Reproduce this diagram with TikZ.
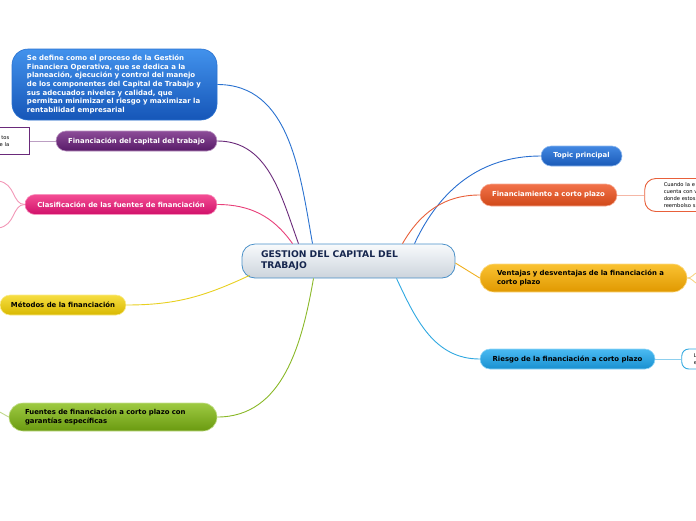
\documentclass[tikz,border=0pt]{standalone}
\usepackage{fontspec}
\setmainfont{DejaVu Sans}
\usepackage{xcolor}
\definecolor{hubtop}{RGB}{248,250,252}
\definecolor{hubbot}{RGB}{204,212,220}
\definecolor{hubline}{RGB}{74,144,200}
\definecolor{hubtext}{RGB}{22,38,78}
\definecolor{deftop}{RGB}{66,146,236}
\definecolor{defbot}{RGB}{22,86,184}
\definecolor{defline}{RGB}{42,114,208}
\definecolor{purtop}{RGB}{140,76,152}
\definecolor{purbot}{RGB}{88,26,104}
\definecolor{purline}{RGB}{106,42,122}
\definecolor{pintop}{RGB}{244,78,148}
\definecolor{pinbot}{RGB}{208,16,106}
\definecolor{pinline}{RGB}{232,64,122}
\definecolor{yeltop}{RGB}{246,222,66}
\definecolor{yelbot}{RGB}{216,184,0}
\definecolor{yelline}{RGB}{232,208,32}
\definecolor{gretop}{RGB}{158,202,66}
\definecolor{grebot}{RGB}{106,154,16}
\definecolor{greline}{RGB}{138,184,40}
\definecolor{toptop}{RGB}{66,136,226}
\definecolor{topbot}{RGB}{26,90,184}
\definecolor{topline}{RGB}{42,111,208}
\definecolor{oratop}{RGB}{242,114,74}
\definecolor{orabot}{RGB}{208,72,24}
\definecolor{oraline}{RGB}{232,96,58}
\definecolor{ambtop}{RGB}{250,194,50}
\definecolor{ambbot}{RGB}{224,152,0}
\definecolor{ambline}{RGB}{240,176,32}
\definecolor{skytop}{RGB}{74,186,242}
\definecolor{skybot}{RGB}{24,144,208}
\definecolor{skyline}{RGB}{48,168,224}
\usepackage{tikz}
\usetikzlibrary{positioning}
\tikzset{
  hub/.style={
    rectangle, rounded corners=13pt, draw=hubline, line width=0.8pt,
    top color=hubtop, bottom color=hubbot, text=hubtext,
    text width=175pt, inner xsep=19pt, minimum height=34pt, align=left,
    font=\fontsize{9.2}{11}\selectfont\bfseries
  },
  defbox/.style={
    rectangle, rounded corners=16pt, draw=defline, line width=0.6pt,
    top color=deftop, bottom color=defbot, text=white,
    text width=175pt, inner xsep=15pt, minimum height=71pt, align=left,
    font=\fontsize{7}{8.6}\selectfont\bfseries
  },
  branch/.style={
    rectangle, rounded corners=10pt, line width=0.6pt, text=white,
    minimum height=20pt, inner ysep=2pt,
    font=\fontsize{6.9}{8.4}\selectfont\bfseries
  },
  paint/.style 2 args={top color=#1, bottom color=#2, draw=#1!60!white},
  leaf/.style={
    rectangle, fill=white, line width=0.9pt, inner ysep=2pt,
    font=\fontsize{5.2}{7}\selectfont
  },
  link/.style={line width=0.9pt},
}
\begin{document}
\begin{tikzpicture}[x=1pt, y=-1pt]
  \useasboundingbox (0,0) rectangle (696,520);

  % centro
  \node (hub) [hub] at (348.5,261) {GESTION DEL CAPITAL DEL\\TRABAJO};

  % ramas izquierda
  \node (def)    [defbox] at (114.5,84.5) {Se define como el proceso de la Gestión\\
    Financiera Operativa, que se dedica a la\\
    planeación, ejecución y control del manejo\\
    de los componentes del Capital de Trabajo y\\
    sus adecuados niveles y calidad, que\\
    permitan minimizar el riesgo y maximizar la\\
    rentabilidad empresarial};
  \node (fincap) [branch, paint={purtop}{purbot}, minimum width=161pt] at (136.5,141) {Financiación del capital del trabajo};
  \node (capleaf) [leaf, draw=purline, text width=60pt, inner xsep=20pt, align=right, minimum height=27pt, left=26pt of fincap] {tos\\e la};
  \node (clasif) [branch, paint={pintop}{pinbot}, minimum width=192pt] at (121,204.5) {Clasificación de las fuentes de financiación};
  \node (metodo) [branch, paint={yeltop}{yelbot}, text=black, minimum width=126pt] at (63,305) {Métodos de la financiación};
  \node (fuente) [branch, paint={gretop}{grebot}, text=black, rounded corners=14pt, text width=176pt, inner xsep=16pt, align=left, minimum height=28pt] at (113,417) {Fuentes de financiación a corto plazo con\\garantías específicas};

  % ramas derecha
  \node (topic)    [branch, paint={toptop}{topbot}, minimum width=81pt] at (581.5,156) {Topic principal};
  \node (finplazo) [branch, paint={oratop}{orabot}, rounded corners=11pt, minimum width=137pt, minimum height=22pt] at (548.5,195) {Financiamiento a corto plazo};
  \node (plazoleaf) [leaf, draw=oraline, rounded corners=11pt, text width=80pt, inner xsep=19pt, minimum height=33pt, align=left, right=27pt of finplazo] {Cuando la e\\cuenta con v\\donde estos\\reembolso s};
  \node (ventaja)  [branch, paint={ambtop}{ambbot}, text=black, rounded corners=14pt, text width=173pt, inner xsep=17pt, align=left, minimum height=28pt] at (583.5,278) {Ventajas y desventajas de la financiación a\\corto plazo};
  \node (riesgo)   [branch, paint={skytop}{skybot}, text=black, minimum width=175pt] at (567.5,359) {Riesgo de la financiación a corto plazo};
  \node (riesleaf) [leaf, draw=skyline, rounded corners=7pt, text width=40pt, inner xsep=12pt, minimum height=20pt, align=left, right=26pt of riesgo] {L\\e};

  % conectores
  \draw [link, defline] (def.east) to[out=0, in=100] ([xshift=-36pt]hub.north);
  \draw [link, purline] (fincap.east) to[out=0, in=110] ([xshift=-50pt]hub.north);
  \draw [link, pinline] (clasif.east) to[out=0, in=125] ([xshift=-56pt]hub.north);
  \draw [link, yelline] (metodo.east) to[out=0, in=205] ([xshift=8pt,yshift=3pt]hub.south west);
  \draw [link, greline] (fuente.east) to[out=0, in=-100] ([xshift=-35pt]hub.south);
  \draw [link, topline] (topic.west) to[out=180, in=65] ([xshift=66pt]hub.north);
  \draw [link, oraline] (finplazo.west) to[out=180, in=60] ([xshift=54pt]hub.north);
  \draw [link, ambline] (ventaja.west) -- ([yshift=-2pt]hub.east);
  \draw [link, skyline] (riesgo.west) to[out=180, in=-65] ([xshift=48pt]hub.south);

  % hojas
  \draw [link, purline!45] (fincap.west) -- (capleaf.east);
  \draw [link, oraline!45] (finplazo.east) -- (plazoleaf.west);
  \draw [link, skyline!55] (riesgo.east) -- (riesleaf.west);
  \coordinate (pinkup) at (-2,181);
  \coordinate (pinklow) at (-2,228);
  \draw [link, pinline!55] (clasif.west) .. controls (12,204.5) and (16,183) .. (pinkup);
  \draw [link, pinline!55] (clasif.west) .. controls (12,204.5) and (16,226) .. (pinklow);
  \coordinate (fuenteend) at (-2,411);
  \draw [link, greline!55] (fuente.west) -- (fuenteend);
  \coordinate (ambup) at (698,272);
  \coordinate (amblow) at (698,284);
  \draw [link, ambline!55] (ventaja.east) to[out=0, in=200] (ambup);
  \draw [link, ambline!55] (ventaja.east) to[out=0, in=160] (amblow);
\end{tikzpicture}
\end{document}
